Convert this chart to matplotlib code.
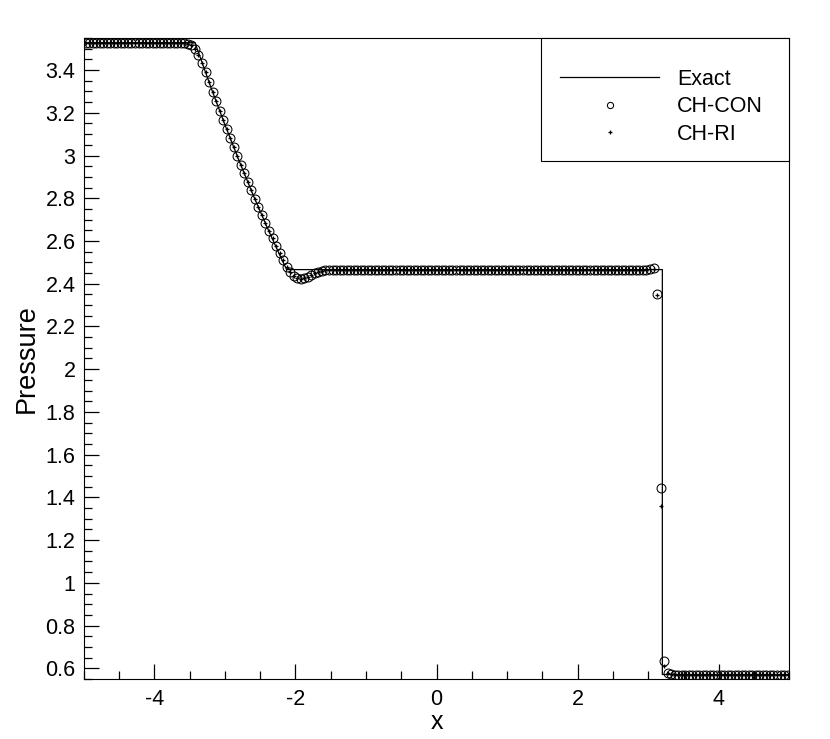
import numpy as np
import matplotlib
matplotlib.use('Agg')
import matplotlib.pyplot as plt
from matplotlib.patches import Rectangle
from matplotlib.ticker import MultipleLocator, FormatStrFormatter

plt.rcParams['font.family'] = ['Liberation Sans', 'DejaVu Sans']

# mesh centres (200 cells on [-5, 5])
x_cells = np.linspace(-4.975, 4.975, 200)

# CH-CON pressure
p_left = [3.528] * 27
p_fan = [3.528, 3.527, 3.524, 3.516, 3.499, 3.470, 3.432, 3.389, 3.344, 3.299,
         3.254, 3.210, 3.166, 3.123, 3.081, 3.039, 2.998, 2.957, 2.916, 2.876,
         2.837, 2.798, 2.760, 2.722, 2.685, 2.648, 2.612, 2.577, 2.543, 2.510,
         2.480, 2.455, 2.437, 2.427, 2.424, 2.426, 2.432, 2.440, 2.448, 2.454,
         2.459, 2.462, 2.464, 2.465]
p_mid = [2.466] * 89 + [2.468]
p_shock_con = [2.472, 2.352, 1.443, 0.633, 0.580, 0.573]
p_shock_ri = [2.470, 2.345, 1.360, 0.612, 0.578, 0.573]
p_right = [0.571] * 33

p_con = p_left + p_fan + p_mid + p_shock_con + p_right
p_ri = p_left + p_fan + p_mid + p_shock_ri + p_right

# exact solution
x_exact = [-5.0, -3.424, -3.2, -3.0, -2.8, -2.6, -2.4, -2.2, -2.125, 3.2, 3.2, 5.0]
p_exact = [3.528, 3.528, 3.320, 3.144, 2.976, 2.815, 2.663, 2.517, 2.466, 2.466, 0.571, 0.571]

fig = plt.figure(figsize=(8.30, 7.39), dpi=100)
ax = fig.add_axes([0.101, 0.0812, 0.850, 0.8674])

ax.plot(x_exact, p_exact, color='black', lw=0.9, label='Exact', zorder=2)
ax.plot(x_cells, p_con, ls='none', marker='o', ms=6.4, mfc='none', mec='black',
        mew=0.75, label='CH-CON', zorder=3)
ax.plot(x_cells, p_ri, ls='none', marker='+', ms=3.4, mec='black', mew=0.9,
        label='CH-RI', zorder=4)

ax.set_xlim(-5, 5)
ax.set_ylim(0.55, 3.55)

ax.xaxis.set_major_locator(MultipleLocator(2))
ax.xaxis.set_minor_locator(MultipleLocator(0.5))
ax.yaxis.set_major_locator(MultipleLocator(0.2))
ax.yaxis.set_minor_locator(MultipleLocator(0.05))
ax.yaxis.set_major_formatter(FormatStrFormatter('%g'))
ax.xaxis.set_major_formatter(FormatStrFormatter('%g'))

ax.tick_params(which='both', direction='in', top=False, right=False, width=0.9,
               labelsize=15.5)
ax.tick_params(which='major', length=10.8)
ax.tick_params(which='minor', length=6.0)
ax.tick_params(axis='y', which='major', pad=6)
ax.tick_params(axis='x', which='major', pad=7)

for s in ax.spines.values():
    s.set_linewidth(0.8)

ax.set_xlabel('x', fontsize=18, labelpad=0)
ax.set_ylabel('Pressure', fontsize=19.5, labelpad=4)

# legend box drawn by hand (uneven padding, as in the original)
ax.add_patch(Rectangle((0.648, 0.808), 0.352, 0.192, transform=ax.transAxes,
                       facecolor='white', edgecolor='black', lw=0.8,
                       clip_on=False, zorder=5))
leg = ax.legend(loc='upper left', bbox_to_anchor=(0.675, 0.952), borderaxespad=0,
                fontsize=15.5, handlelength=4.6, handletextpad=0.85, numpoints=1,
                labelspacing=0.3, borderpad=0, frameon=False, markerscale=0.7)
leg.set_zorder(6)

fig.savefig('out.png', dpi=100)
